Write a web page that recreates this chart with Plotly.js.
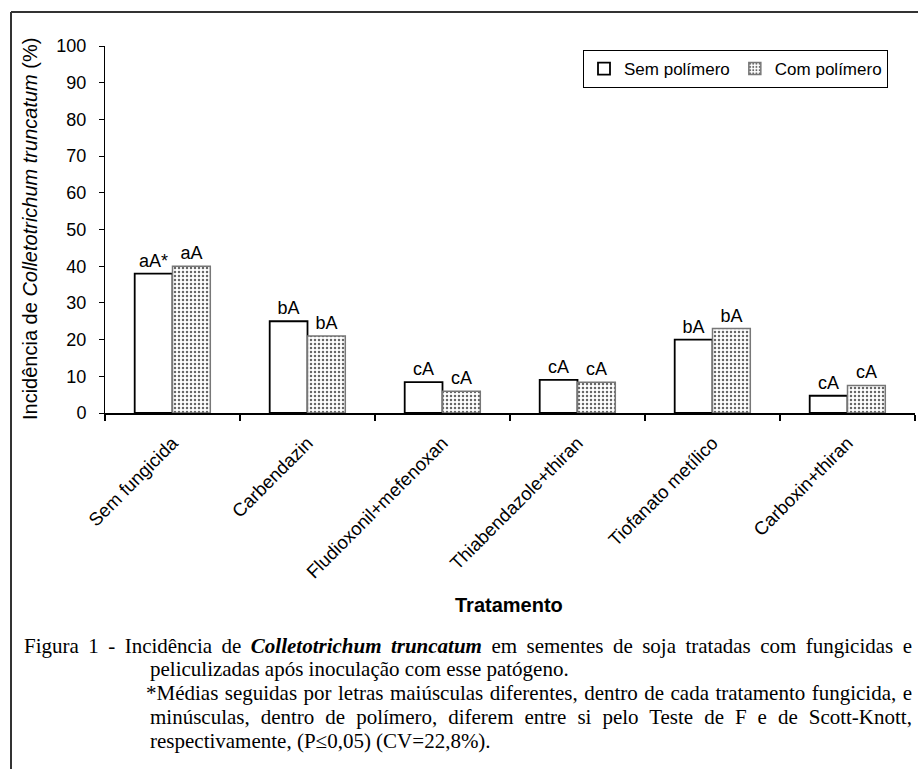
<!DOCTYPE html>
<html>
<head>
<meta charset="utf-8">
<script src="https://cdn.plot.ly/plotly-3.0.1.min.js"></script>
<style>
html,body{margin:0;padding:0;background:#fff;}
#chart{width:918px;height:769px;}
</style>
</head>
<body>
<div id="chart"></div>
<script>
var categories = ["Sem fungicida", "Carbendazin", "Fludioxonil+mefenoxan", "Thiabendazole+thiran", "Tiofanato metílico", "Carboxin+thiran"];
var semPolimero = [38, 25, 8.4, 9, 20, 4.7];
var comPolimero = [40, 21, 5.9, 8.4, 23, 7.5];
var semLabels = ["aA*", "bA", "cA", "cA", "bA", "cA"];
var comLabels = ["aA", "bA", "cA", "cA", "bA", "cA"];
var yTicks = [0, 10, 20, 30, 40, 50, 60, 70, 80, 90, 100];

var sans = "Liberation Sans, Arial, sans-serif";
var traces = [
  {
    type: "bar", name: "Sem polímero", x: categories, y: semPolimero,
    text: semLabels, textposition: "outside", cliponaxis: false,
    textfont: {family: sans, size: 18, color: "#000"},
    marker: {color: "#fff", line: {color: "#000", width: 1.8}}
  },
  {
    type: "bar", name: "Com polímero", x: categories, y: comPolimero,
    text: comLabels, textposition: "outside", cliponaxis: false,
    textfont: {family: sans, size: 18, color: "#000"},
    marker: {color: "#fff", line: {color: "#777", width: 1.5},
      pattern: {shape: ".", fgcolor: "#666", bgcolor: "#fff", size: 4, solidity: 0.3}}
  }
];

var L = 105, R = 3, T = 46, B = 356, W = 918, H = 769;
var pw = W - L - R, ph = H - T - B;
function px(x){ return (x - L) / pw; }
function py(y){ return (H - B - y) / ph; }

var serif = "Liberation Serif, Times New Roman, serif";
var capSize = 21;
function cap(x, y, text){
  return {xref: "paper", yref: "paper", x: px(x), y: py(y), xanchor: "left", yanchor: "middle",
    text: text, showarrow: false, font: {family: serif, size: capSize, color: "#000"}};
}
var annotations = [
  {xref: "paper", yref: "paper", x: px(30), y: py(229), xanchor: "center", yanchor: "middle",
   text: "Incidência de <i>Colletotrichum truncatum</i> (%)",
   textangle: -90, showarrow: false, font: {family: sans, size: 20, color: "#000"}},
  {xref: "paper", yref: "paper", x: px(509), y: py(605), xanchor: "center", yanchor: "middle",
   text: "<b>Tratamento</b>", showarrow: false, font: {family: sans, size: 20, color: "#000"}},
  cap(22, 646, "Figura 1 - Incidência de <b><i>Colletotrichum truncatum</i></b> em sementes de soja tratadas com fungicidas e"),
  cap(148, 669, "peliculizadas após inoculação com esse patógeno."),
  cap(144, 693, "*Médias seguidas por letras maiúsculas diferentes, dentro de cada tratamento fungicida, e"),
  cap(148, 717, "minúsculas, dentro de polímero, diferem entre si pelo Teste de F e de Scott-Knott,"),
  cap(148, 741, "respectivamente, (P≤0,05) (CV=22,8%).")
];
// target right edges (px) for justified caption lines, by annotation index
var justifyTargets = {2: 912, 4: 912, 5: 912};

var shapes = [
  {type: "line", xref: "paper", yref: "paper", x0: px(11), x1: px(11), y0: py(12), y1: py(769), line: {color: "#333", width: 2}},
  {type: "line", xref: "paper", yref: "paper", x0: px(11), x1: px(918), y0: py(12), y1: py(12), line: {color: "#333", width: 2}}
];

var layout = {
  width: W, height: H,
  margin: {l: L, r: R, t: T, b: B, pad: 0},
  paper_bgcolor: "#fff", plot_bgcolor: "#fff",
  barmode: "group", bargap: 0.44, bargroupgap: 0,
  showlegend: true,
  legend: {orientation: "h", x: px(583), y: py(50), xanchor: "left", yanchor: "top",
    bordercolor: "#000", borderwidth: 1, bgcolor: "#fff",
    font: {family: sans, size: 17, color: "#000"},
    itemwidth: 30, traceorder: "normal"},
  xaxis: {
    type: "category", showline: true, linecolor: "#000", linewidth: 2,
    ticks: "outside", tickson: "boundaries", ticklen: 6, tickcolor: "#000", tickwidth: 1.5,
    tickangle: -45, ticklabelstandoff: 10,
    tickfont: {family: sans, size: 18.5, color: "#000"},
    showgrid: false, zeroline: false
  },
  yaxis: {
    range: [0, 100], tickvals: yTicks, ticktext: yTicks.map(String),
    showline: true, linecolor: "#000", linewidth: 1,
    ticks: "outside", ticklen: 5, tickcolor: "#000", tickwidth: 1,
    ticklabelstandoff: 9,
    tickfont: {family: sans, size: 18, color: "#000"},
    showgrid: false, zeroline: false
  },
  annotations: annotations,
  shapes: shapes
};

Plotly.newPlot("chart", traces, layout, {displayModeBar: false, staticPlot: true}).then(function(gd){
  var texts = gd.querySelectorAll(".annotation .annotation-text");
  Object.keys(justifyTargets).forEach(function(k){
    var t = texts[+k];
    if (!t) return;
    var box0 = t.getBoundingClientRect();
    var spaces = (t.textContent.match(/ /g) || []).length;
    var extra = justifyTargets[k] - box0.right;
    if (spaces > 0 && extra > 0) {
      t.setAttribute("word-spacing", (extra / spaces).toFixed(2));
      var box1 = t.getBoundingClientRect();
      var shift = box0.left - box1.left;
      var x0 = parseFloat(t.getAttribute("x") || "0");
      t.setAttribute("x", (x0 + shift).toFixed(2));
    }
  });
});
</script>
</body>
</html>
